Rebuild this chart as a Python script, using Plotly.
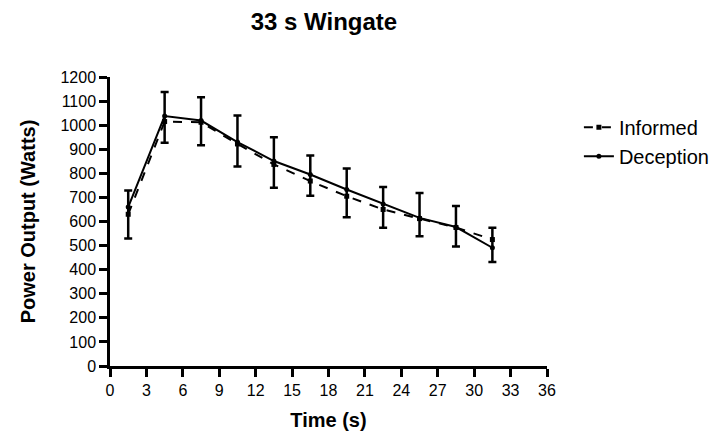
import plotly.graph_objects as go

time_s = [1.5, 4.5, 7.5, 10.5, 13.5, 16.5, 19.5, 22.5, 25.5, 28.5, 31.5]
informed = [630, 1015, 1012, 922, 837, 768, 705, 650, 612, 575, 525]
deception = [660, 1038, 1019, 930, 851, 795, 733, 673, 615, 577, 491]
err_top = [729, 1138, 1116, 1040, 950, 874, 820, 743, 718, 664, 574]
err_bottom = [529, 927, 917, 828, 740, 707, 618, 574, 539, 496, 432]

x_ticks = list(range(0, 37, 3))
y_ticks = list(range(0, 1201, 100))

font_family = "Liberation Sans, Arial, sans-serif"

fig = go.Figure()

fig.add_trace(go.Scatter(
    x=time_s, y=informed, name="Informed", mode="lines+markers",
    line=dict(color="black", width=2, dash="dash"),
    marker=dict(symbol="square", size=5, color="black"),
))
fig.add_trace(go.Scatter(
    x=time_s, y=deception, name="Deception", mode="lines+markers",
    line=dict(color="black", width=2),
    marker=dict(symbol="circle", size=5, color="black"),
    error_y=dict(
        type="data", symmetric=False,
        array=[t - d for t, d in zip(err_top, deception)],
        arrayminus=[d - b for d, b in zip(deception, err_bottom)],
        color="black", thickness=2.5, width=4,
    ),
))

fig.update_layout(
    width=728, height=436,
    margin=dict(l=102, r=189, t=69, b=78),
    paper_bgcolor="white", plot_bgcolor="white",
    font=dict(family=font_family, size=16, color="black"),
    title=dict(text="<b>33 s Wingate</b>", x=0.434, xanchor="center", y=0.968, yanchor="middle",
               font=dict(size=24, family=font_family)),
    showlegend=True,
    legend=dict(x=1.073, y=0.776, xanchor="left", yanchor="middle",
                font=dict(size=20, family=font_family), bgcolor="rgba(0,0,0,0)",
                tracegroupgap=0, itemwidth=30),
    xaxis=dict(
        range=[0, 36], tickvals=x_ticks, ticktext=[str(v) for v in x_ticks],
        showline=True, linecolor="black", linewidth=2.5, mirror=False,
        ticks="outside", ticklen=8, tickwidth=2.5, tickcolor="black",
        showgrid=False, zeroline=False, automargin=False,
        title=dict(text="<b>Time (s)</b>", font=dict(size=20), standoff=16),
        tickfont=dict(size=16),
    ),
    yaxis=dict(
        range=[0, 1200], tickvals=y_ticks, ticktext=[str(v) for v in y_ticks],
        showline=True, linecolor="black", linewidth=2.5, mirror=False,
        ticks="outside", ticklen=8, tickwidth=2.5, tickcolor="black",
        showgrid=False, zeroline=False, automargin=False,
        title=dict(text="<b>Power Output (Watts)</b>", font=dict(size=20), standoff=20),
        tickfont=dict(size=16),
    ),
)

fig.write_html("out.html")
